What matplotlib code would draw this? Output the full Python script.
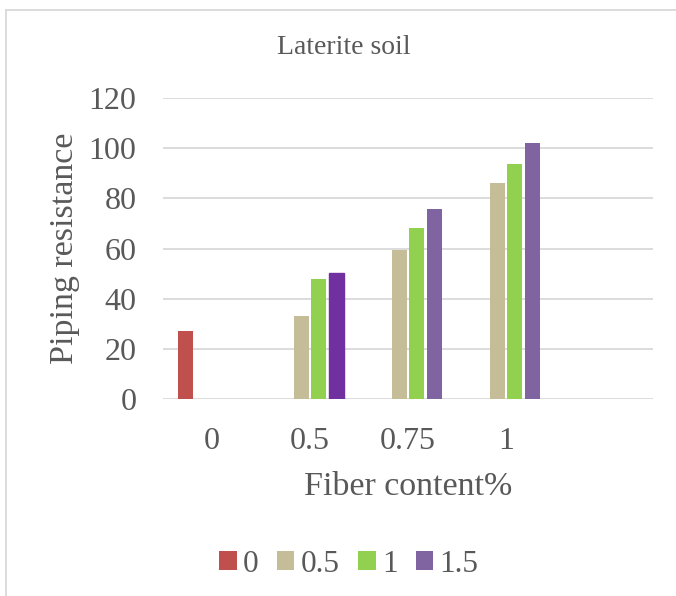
import numpy as np
import matplotlib
matplotlib.use("Agg")
import matplotlib.pyplot as plt
from matplotlib.lines import Line2D
from matplotlib.patches import Patch

categories = ["0", "0.5", "0.75", "1", ""]
series_names = ["0", "0.5", "1", "1.5"]
vals_0 = [27.1, np.nan, np.nan, np.nan, np.nan]
vals_05 = [np.nan, 33.1, 59.5, 86.2, np.nan]
vals_1 = [np.nan, 47.9, 68.2, 93.8, np.nan]
vals_15 = [np.nan, 50.3, 75.8, 102.2, np.nan]
series = [vals_0, vals_05, vals_1, vals_15]
colors = ["#C0504D", "#C4BD97", "#92D050", "#8064A2"]
highlight_color = "#7030A0"  # custom-colored point (0.5 category, 1.5 series)

W, H = 676, 596
plt.rcParams['font.family'] = ['Liberation Serif', 'DejaVu Serif']
txt = "#595959"

fig = plt.figure(figsize=(W / 100, H / 100), dpi=100)
ax = fig.add_axes([163 / W, (H - 399) / H, (653 - 163) / W, (399 - 98) / H])

x = np.arange(len(categories))
slot = 17.5 / 98
bw = 15 / 98
handles = []
for i, (vals, col) in enumerate(zip(series, colors)):
    offs = (i - 1.5) * slot
    bars = ax.bar(x + offs, vals, width=bw, color=col, zorder=3, label=series_names[i])
    handles.append(bars)
handles[3][1].set_color(highlight_color)

ax.set_xlim(-0.5, len(categories) - 0.5)
ax.set_ylim(0, 120)
ax.set_yticks(np.arange(0, 121, 20))
ax.set_xticks(x)
ax.set_xticklabels(categories)
ax.grid(axis='y', color='#D9D9D9', linewidth=1.3, zorder=0)
for s in ax.spines.values():
    s.set_visible(False)
ax.tick_params(axis='both', length=0, colors=txt, labelsize=23)
ax.tick_params(axis='y', pad=19)
ax.tick_params(axis='x', pad=20)

ax.set_ylabel("Piping resistance", fontsize=24.5, color=txt, labelpad=6)
ax.set_xlabel("Fiber content%", fontsize=24.5, color=txt, labelpad=11)
fig.text(344 / W, 1 - 48 / H, "Laterite soil", ha='center', va='center', fontsize=20, color=txt)

leg_handles = [Patch(facecolor=c) for c in colors]
leg = fig.legend(leg_handles, series_names, loc='center', bbox_to_anchor=(349 / W, 1 - 564 / H),
                 ncol=4, frameon=False, fontsize=22.5, handlelength=0.55, handleheight=0.55,
                 handletextpad=0.2, columnspacing=0.6, labelcolor=txt, borderpad=0)

fig.add_artist(Line2D([6 / W, 6 / W], [0, 1 - 10 / H], transform=fig.transFigure, color='#D9D9D9', linewidth=1.3))
fig.add_artist(Line2D([6 / W, 1], [1 - 10 / H, 1 - 10 / H], transform=fig.transFigure, color='#D9D9D9', linewidth=1.3))

fig.savefig("out.png", dpi=100, facecolor='white')
